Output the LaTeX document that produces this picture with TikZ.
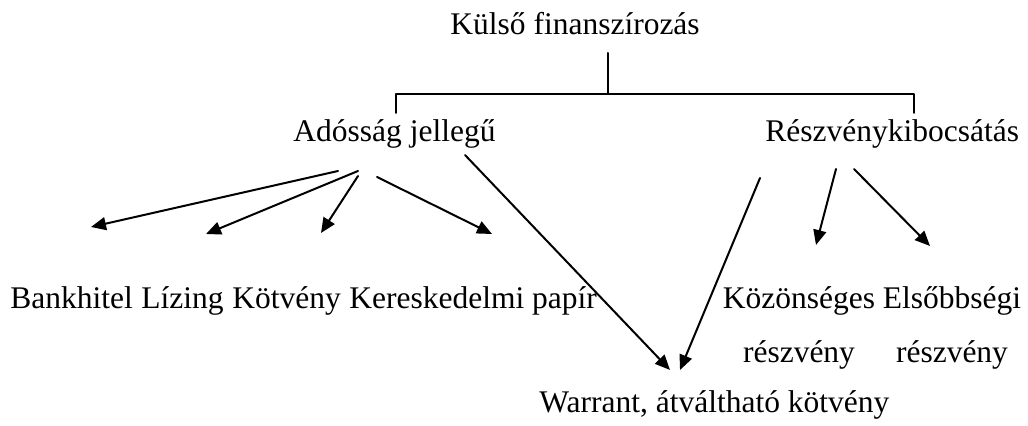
\documentclass[tikz,border=0pt]{standalone}
\usepackage{fontspec}
\setmainfont{Liberation Serif}
\usetikzlibrary{arrows.meta,positioning}

\begin{document}
\begin{tikzpicture}[x=0.5pt,y=-0.5pt,line cap=round,line join=round,>={Triangle[length=7.5pt,width=6.5pt]},
		lbl/.style={inner sep=0pt,font=\fontsize{15.75}{27}\selectfont},
		ag/.style={line width=1pt}]
		\useasboundingbox (0,0) rectangle (1028,426);
		\node[lbl,anchor=base west] (kulso) at (450,35) {Külső finanszírozás};
		\node[lbl,anchor=base west] (adossag) at (293,142) {Adósság jellegű};
		\node[lbl,anchor=base west] (reszveny) at (765,142) {Részvénykibocsátás};
		\node[lbl,anchor=base west] (bankhitel) at (10,309) {Bankhitel};
		\node[lbl,base right=3.9pt of bankhitel] (lizing) {Lízing};
		\node[lbl,base right=3.9pt of lizing] (kotveny) {Kötvény};
		\node[lbl,base right=3.9pt of kotveny] (keresk) {Kereskedelmi papír};
		\node[lbl,anchor=base,align=center] (kozons) at (799,363) {Közönséges\\részvény};
		\node[lbl,anchor=base,align=center] (elsob) at (952,363) {Elsőbbségi\\részvény};
		\node[lbl,anchor=base west] (warrant) at (539,413) {Warrant, átváltható kötvény};
		\coordinate (fo) at (608,53);
		\coordinate (fa) at (608,94);
		\coordinate (ba) at (396,94);
		\coordinate (bl) at (396,113);
		\coordinate (ja) at (914,94);
		\coordinate (jl) at (914,113);
		\draw[ag] (fo) -- (fa);
		\draw[ag] (bl) -- (ba) -- (ja) -- (jl);
		\coordinate (a1) at (338,171);
		\coordinate (a2) at (358,171);
		\coordinate (a3) at (358,176);
		\coordinate (a4) at (377,177);
		\coordinate (a5) at (465,155);
		\coordinate (r1) at (836,169);
		\coordinate (r2) at (854,169);
		\coordinate (r3) at (760,178);
		\coordinate (v1) at (91,227);
		\coordinate (v2) at (206,234);
		\coordinate (v3) at (321,233);
		\coordinate (v4) at (492,234);
		\coordinate (v5) at (816,245);
		\coordinate (v6) at (930,246);
		\coordinate (w1) at (670,370);
		\coordinate (w2) at (680,370);
		\draw[ag,->] (a1) -- (v1);
		\draw[ag,->] (a2) -- (v2);
		\draw[ag,->] (a3) -- (v3);
		\draw[ag,->] (a4) -- (v4);
		\draw[ag,->] (a5) -- (w1);
		\draw[ag,->] (r1) -- (v5);
		\draw[ag,->] (r2) -- (v6);
		\draw[ag,->] (r3) -- (w2);
	\end{tikzpicture}
\end{document}
